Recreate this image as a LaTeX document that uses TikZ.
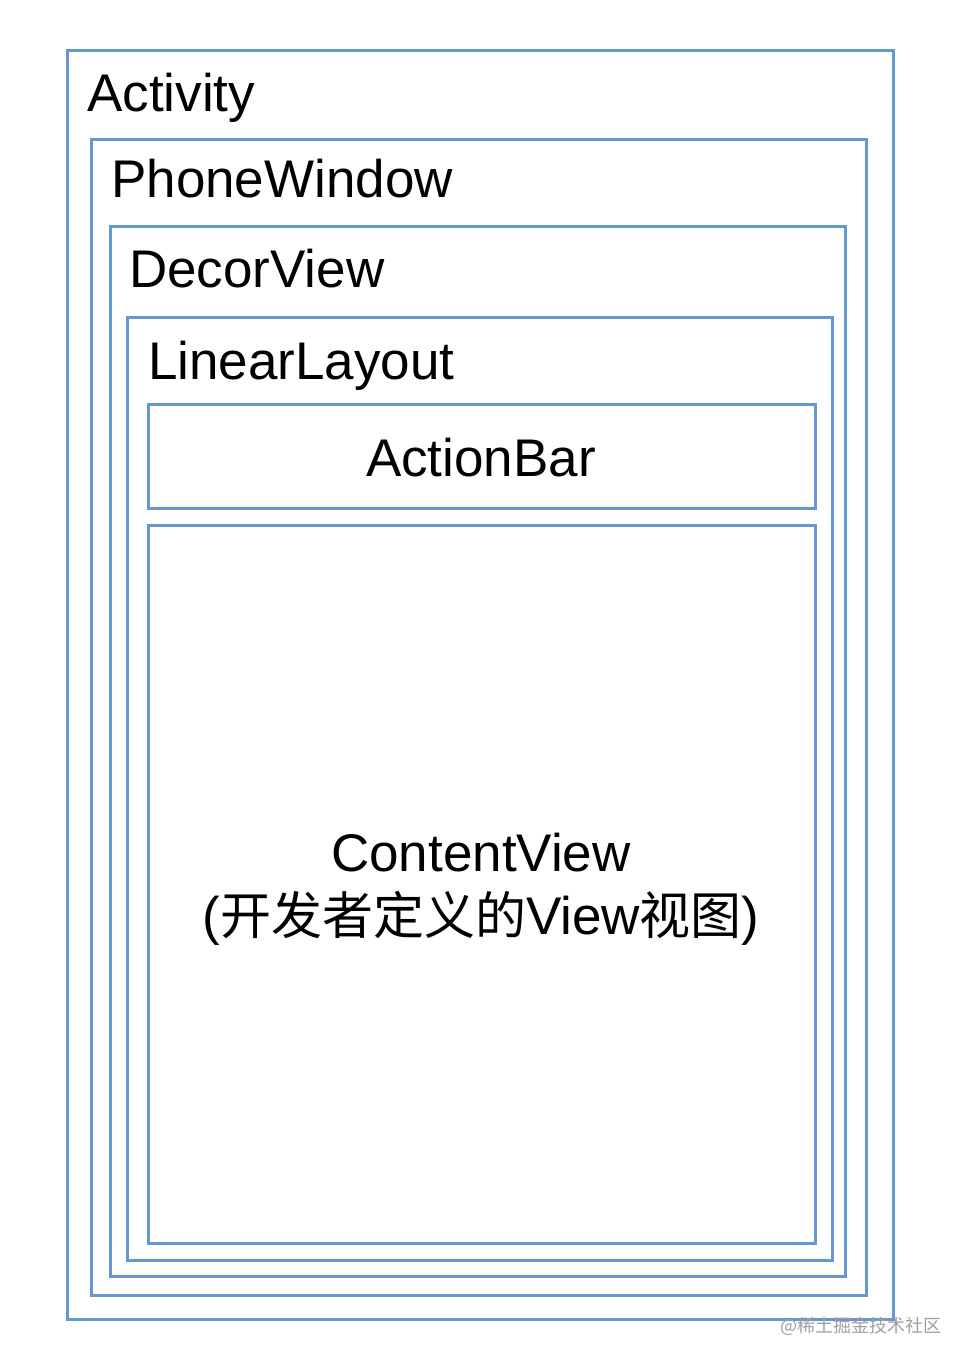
\documentclass[tikz,border=0pt]{standalone}
\usepackage{fontspec}
\setmainfont{Liberation Sans}
\newfontfamily\cjk{Noto Sans CJK SC}
\definecolor{boxblue}{RGB}{100,152,206}
\begin{document}
\begin{tikzpicture}[x=1pt,y=-1pt,
  box/.style={draw=boxblue, line width=3pt, inner sep=0pt, outer sep=0pt, anchor=north west, rectangle},
  lbl/.style={inner sep=0pt, font=\fontsize{53}{63}\selectfont, text=black},
  cjkpart/.style={}]
\useasboundingbox (0,0) rectangle (972,1366);
\node[box, minimum width=826pt, minimum height=1269pt] (activity) at (67,50) {};
\node[box, minimum width=775pt, minimum height=1156pt] (phonewindow) at (91,139) {};
\node[box, minimum width=735pt, minimum height=1050pt] (decorview) at (110,226) {};
\node[box, minimum width=705pt, minimum height=943pt] (linearlayout) at (127,317) {};
\node[box, minimum width=667pt, minimum height=104pt] (actionbar) at (148,404) {};
\node[box, minimum width=667pt, minimum height=718pt] (contentview) at (148,525) {};
\node[lbl, anchor=base west] (tact) at (87,111) {Activity};
\node[lbl, anchor=base west] (tphone) at (111,197) {PhoneWindow};
\node[lbl, anchor=base west] (tdecor) at (129,287) {DecorView};
\node[lbl, anchor=base west] (tlinear) at (148,379) {LinearLayout};
\node[lbl, anchor=base] (tbar) at (481,476) {ActionBar};
\node[lbl, anchor=base] (tcontent) at (481,871) {ContentView};
\node[lbl, anchor=base] (tcontent2) at (481,934) {({\cjk\fontsize{51}{63}\selectfont 开发者定义的}View{\cjk\fontsize{51}{63}\selectfont 视图})};
\node[inner sep=0pt, text=gray!75, font=\cjk\fontsize{18}{20}\selectfont] (wm) at (861,1326) {@稀土掘金技术社区};
\end{tikzpicture}
\end{document}
